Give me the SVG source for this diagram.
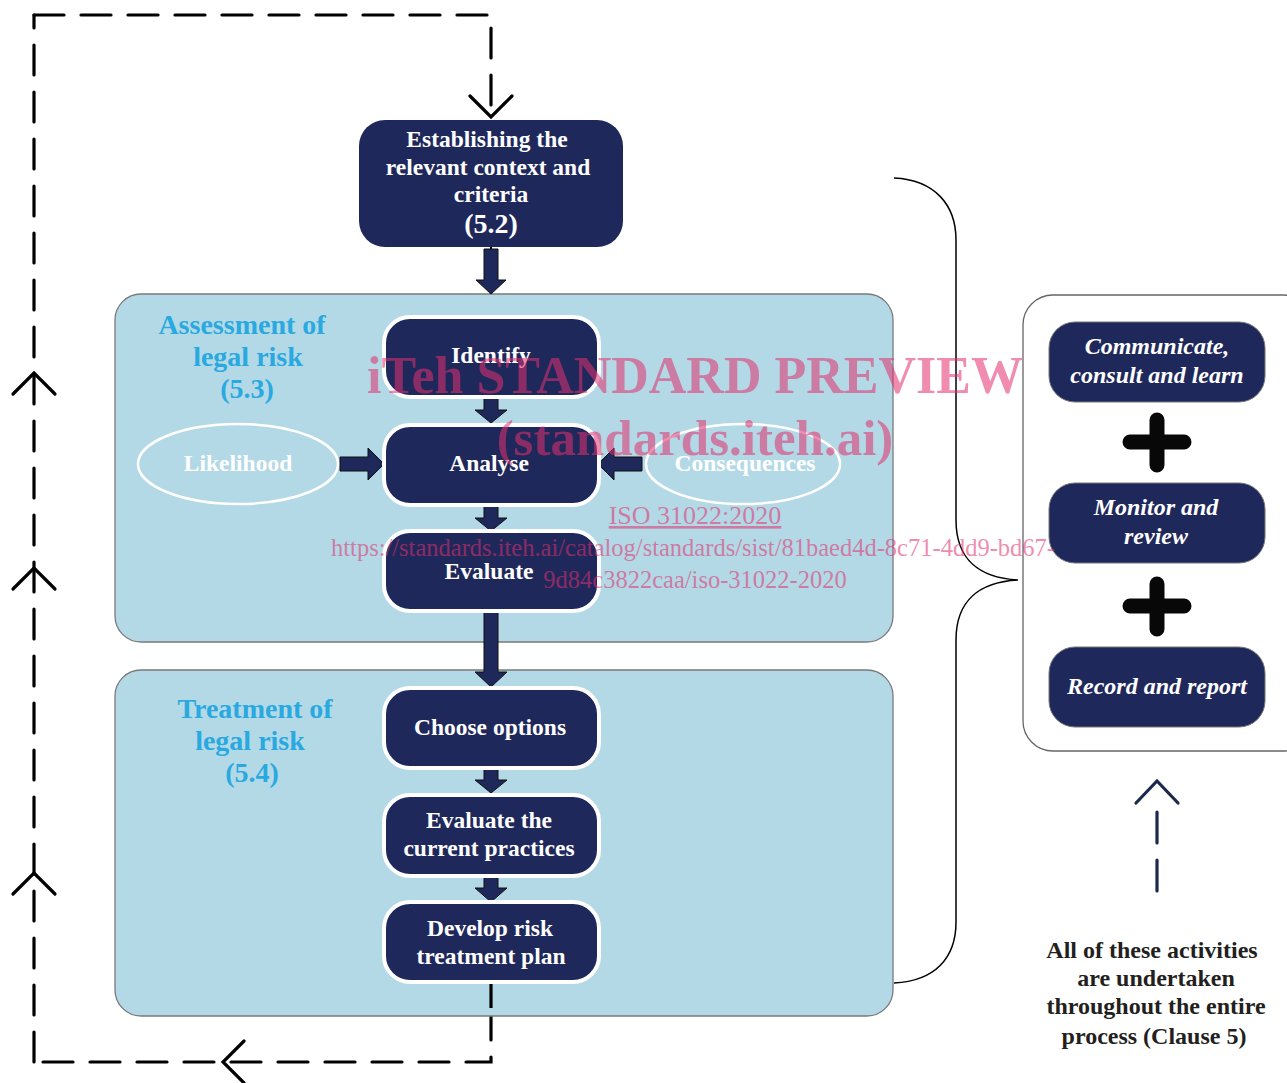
<svg xmlns="http://www.w3.org/2000/svg" width="1287" height="1083" viewBox="0 0 1287 1083">
<style>
.dash{fill:none;stroke:#000;stroke-width:3.2;stroke-dasharray:30 17;stroke-linecap:round}
.chev{fill:none;stroke:#000;stroke-width:3.2;stroke-linecap:round;stroke-linejoin:miter}
.panel{fill:#b3d9e6;stroke:#7a7a7a;stroke-width:1.3}
.node{fill:#1f285b;stroke:#fff;stroke-width:4}
.rnode{fill:#1f285b;stroke:#777;stroke-width:1}
.t{font-family:"Liberation Serif",serif;font-weight:bold;fill:#fff;text-anchor:middle;font-size:23.5px}
.ti{font-family:"Liberation Serif",serif;font-weight:bold;font-style:italic;fill:#fff;text-anchor:middle;font-size:24px}
.lbl{font-family:"Liberation Serif",serif;font-weight:bold;fill:#29a9e0;text-anchor:middle;font-size:28px}
.note{font-family:"Liberation Serif",serif;font-weight:bold;fill:#231f20;text-anchor:middle;font-size:24px}
.barrow{fill:#1f285b;stroke:#111;stroke-width:1}
.wm{font-family:"Liberation Serif",serif;fill:#e2306e;opacity:0.55}
</style>

<g id="loop">
<path class="dash" d="M34,15 H491 V112"/>
<polyline class="chev" points="470,96 491,117 512,96"/>
<path class="dash" d="M34,1062 V15"/>
<polyline class="chev" points="13,394 34,373 55,394"/>
<polyline class="chev" points="13,589 34,568 55,589"/>
<polyline class="chev" points="13,894 34,873 55,894"/>
<path class="dash" d="M491,1010 V1062 H34"/>
<polyline class="chev" points="244,1041 223,1062 244,1083"/>
</g>

<g id="panel-assessment"><rect class="panel" x="115" y="294" width="778" height="348" rx="26"/>
<text class="lbl" x="242" y="334">Assessment of</text>
<text class="lbl" x="248" y="366">legal risk</text>
<text class="lbl" x="247" y="398">(5.3)</text></g>

<g id="panel-treatment"><rect class="panel" x="115" y="670" width="778" height="346" rx="26"/>
<text class="lbl" x="255" y="718">Treatment of</text>
<text class="lbl" x="250" y="750">legal risk</text>
<text class="lbl" x="252" y="782">(5.4)</text></g>

<g id="connectors">
<line x1="491" y1="240" x2="491" y2="250" stroke="#000" stroke-width="2"/>
<path class="barrow" d="M484,249 H498 V280 H506 L491,294 L476,280 H484 Z"/>
<path class="barrow" d="M484,398 H498 V410 H507 L491,423 L475,410 H484 Z"/>
<path class="barrow" d="M484,506 H498 V518 H507 L491,531 L475,518 H484 Z"/>
<path class="barrow" d="M484,612 H498 V672 H507 L491,687 L475,672 H484 Z"/>
<path class="barrow" d="M484,768 H498 V780 H507 L491,793 L475,780 H484 Z"/>
<path class="barrow" d="M484,876 H498 V888 H507 L491,902 L475,888 H484 Z"/>
<path class="barrow" d="M340,457 H368 V448 L384,464 L368,480 V471 H340 Z"/>
<path class="barrow" d="M642,457 H614 V448 L598,464 L614,480 V471 H642 Z"/>
<line x1="491" y1="982" x2="491" y2="1008" stroke="#000" stroke-width="3.2"/>
<path d="M894,178 C935,180 956,205 956,240 V520 C956,560 980,578 1018,580 C980,582 956,600 956,640 V922 C956,958 935,981 894,983" fill="none" stroke="#000" stroke-width="1.5"/>
<line x1="1157" y1="812" x2="1157" y2="892" stroke="#1a2a4a" stroke-width="3.2" stroke-dasharray="31 17" stroke-linecap="round"/>
<polyline points="1136,803 1157,781 1178,803" fill="none" stroke="#1a2a4a" stroke-width="3.2" stroke-linecap="round"/>
</g>

<g id="node-context"><rect x="359" y="120" width="264" height="127" rx="26" fill="#1f285b"/>
<text class="t" x="487" y="147">Establishing the</text>
<text class="t" x="488" y="175">relevant context and</text>
<text class="t" x="491" y="202">criteria</text>
<text class="t" x="491" y="233" style="font-size:28px">(5.2)</text></g>

<g id="node-identify"><rect class="node" x="384" y="317" width="215" height="80" rx="26"/>
<text class="t" x="491" y="363">Identify</text></g>
<g id="node-analyse"><rect class="node" x="384" y="425" width="215" height="80" rx="26"/>
<text class="t" x="489" y="471">Analyse</text></g>
<g id="node-evaluate"><rect class="node" x="384" y="531" width="215" height="80" rx="26"/>
<text class="t" x="489" y="579">Evaluate</text></g>
<g id="node-likelihood"><ellipse cx="238" cy="464" rx="100" ry="40" fill="none" stroke="#fff" stroke-width="2.5"/>
<text class="t" x="238" y="471">Likelihood</text></g>
<g id="node-consequences"><ellipse cx="743" cy="464" rx="97" ry="40" fill="none" stroke="#fff" stroke-width="2.5"/>
<text class="t" x="745" y="471">Consequences</text></g>

<g id="node-choose"><rect class="node" x="384" y="688" width="215" height="80" rx="26"/>
<text class="t" x="490" y="735">Choose options</text></g>
<g id="node-evalpractices"><rect class="node" x="384" y="795" width="215" height="81" rx="26"/>
<text class="t" x="489" y="828">Evaluate the</text>
<text class="t" x="489" y="856">current practices</text></g>
<g id="node-develop"><rect class="node" x="384" y="902" width="215" height="80" rx="26"/>
<text class="t" x="490" y="936">Develop risk</text>
<text class="t" x="491" y="964">treatment plan</text></g>

<g id="panel-activities"><rect x="1023" y="295" width="290" height="456" rx="30" fill="#fff" stroke="#666" stroke-width="1.3"/></g>
<g id="node-communicate"><rect class="rnode" x="1049" y="322" width="216" height="80" rx="26"/>
<text class="ti" x="1157" y="354">Communicate,</text>
<text class="ti" x="1157" y="383">consult and learn</text></g>
<g id="plus1"><path d="M1130,442 H1184 M1157,420 V465" stroke="#080808" stroke-width="15" stroke-linecap="round"/></g>
<g id="node-monitor"><rect class="rnode" x="1049" y="483" width="216" height="80" rx="26"/>
<text class="ti" x="1156" y="515">Monitor and</text>
<text class="ti" x="1156" y="544">review</text></g>
<g id="plus2"><path d="M1130,606 H1184 M1157,584 V629" stroke="#080808" stroke-width="15" stroke-linecap="round"/></g>
<g id="node-record"><rect class="rnode" x="1049" y="647" width="216" height="80" rx="26"/>
<text class="ti" x="1157" y="694">Record and report</text></g>

<g id="note">
<text class="note" x="1152" y="958">All of these activities</text>
<text class="note" x="1156" y="986">are undertaken</text>
<text class="note" x="1156" y="1014">throughout the entire</text>
<text class="note" x="1154" y="1044">process (Clause 5)</text>
</g>

<g id="watermark">
<text class="wm" x="695" y="393" text-anchor="middle" style="font-size:52px;font-weight:bold">iTeh STANDARD PREVIEW</text>
<text class="wm" x="695" y="455" text-anchor="middle" style="font-size:51px;font-weight:bold">(standards.iteh.ai)</text>
<text class="wm" x="695" y="524" text-anchor="middle" style="font-size:26px;text-decoration:underline">ISO 31022:2020</text>
<text class="wm" x="693" y="556" text-anchor="middle" style="font-size:24.5px">https://standards.iteh.ai/catalog/standards/sist/81baed4d-8c71-4dd9-bd67-</text>
<text class="wm" x="695" y="588" text-anchor="middle" style="font-size:24.5px">9d84c3822caa/iso-31022-2020</text>
</g>
</svg>
